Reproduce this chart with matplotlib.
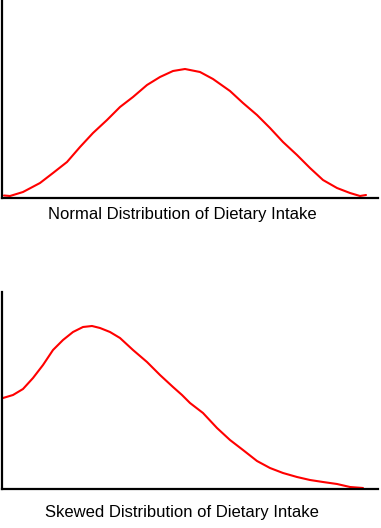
import numpy as np
import matplotlib.pyplot as plt

W, H = 381, 528

# estimated curve heights (pixels above the x axis) at intake positions
normal_x = [2, 8, 21, 38, 51, 65, 78, 91, 105, 118, 131, 145, 158, 171, 183, 188,
            198, 211, 228, 241, 255, 268, 281, 295, 308, 321, 335, 348, 358, 364]
normal_y = [2.5, 2, 6, 15, 25, 36, 51, 65, 78, 91, 101, 113, 121, 127, 129, 128,
            126, 119, 107, 95, 83, 70, 56, 43, 30, 18, 10, 5, 2, 3]

skewed_x = [1, 11, 21, 31, 41, 51, 61, 71, 81, 90, 98, 108, 118, 131, 145, 158,
            171, 180, 188, 201, 215, 228, 241, 255, 268, 281, 295, 308, 321, 335, 348, 361]
skewed_y = [91, 94, 100, 111, 124, 139, 149, 157, 162, 163, 161, 157, 151, 139, 127, 114,
            102, 94, 86, 76, 61, 49, 39, 28, 21, 16, 12, 9, 7, 5, 2, 1]

labels = ["Normal Distribution of Dietary Intake",
          "Skewed Distribution of Dietary Intake"]

fig = plt.figure(figsize=(W / 100, H / 100), dpi=100)

# (top px of axes, bottom px of axes, label baseline px)
panels = [(0, 198, 219, normal_x, normal_y),
          (292, 489, 517, skewed_x, skewed_y)]

for (top, bot, base, xs, ys), lab in zip(panels, labels):
    ax = fig.add_axes([2 / W, 1 - bot / H, 376 / W, (bot - top) / H])
    ax.plot(xs, ys, color='#ff0000', lw=1.5, solid_capstyle='round')
    ax.set_xlim(0, 376)
    ax.set_ylim(0, bot - top)
    for s in ['top', 'right']:
        ax.spines[s].set_visible(False)
    for s in ['left', 'bottom']:
        ax.spines[s].set_linewidth(1.6)
        ax.spines[s].set_color('black')
    ax.set_xticks([])
    ax.set_yticks([])
    ax.patch.set_alpha(0)
    fig.text(182 / W, 1 - base / H, lab, ha='center', va='baseline',
             fontsize=12, family='Liberation Sans', color='black')

fig.savefig('out.png', dpi=100)
